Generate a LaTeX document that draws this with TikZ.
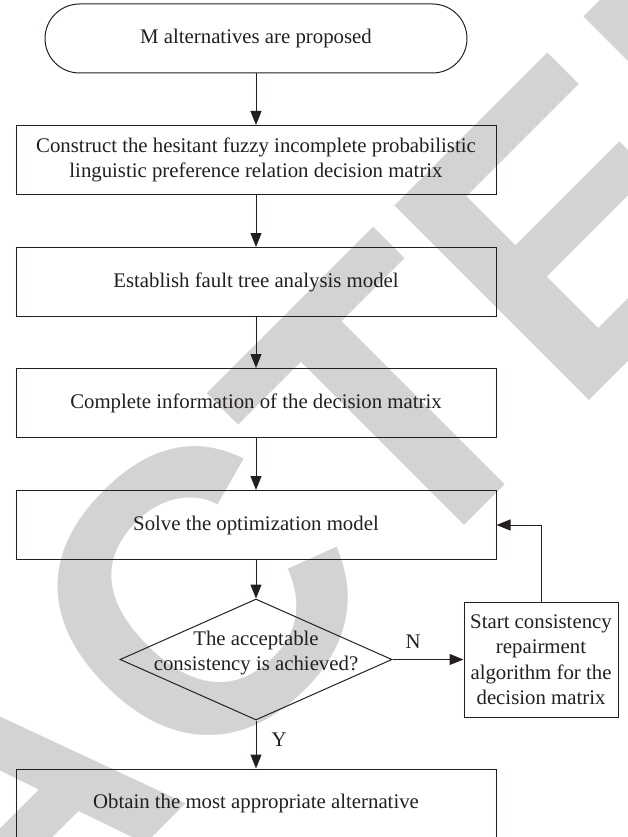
\documentclass[tikz,border=0pt]{standalone}
\usepackage{fontspec}
\setmainfont{Liberation Serif}
\newfontfamily\wmfont{Liberation Sans}
\usetikzlibrary{shapes.geometric,arrows.meta}
\definecolor{wm}{RGB}{211,211,211}
\definecolor{ln}{RGB}{35,31,32}
\begin{document}
\begin{tikzpicture}[x=1pt,y=-1pt,
  every node/.style={font=\fontsize{20.8}{25.5}\selectfont, text=ln},
  box/.style={draw=ln, line width=1pt, minimum width=480pt, minimum height=69pt, inner sep=0pt, align=center},
  term/.style={draw=ln, line width=1pt, rounded corners=34.5pt, minimum width=422pt, minimum height=69pt, inner sep=0pt},
  decision/.style={draw=ln, line width=1pt, shape=diamond, minimum width=272pt, minimum height=121pt, inner sep=0pt},
  sidebox/.style={draw=ln, line width=1pt, minimum width=154pt, minimum height=115pt, inner sep=0pt, align=center},
  arr/.style={draw=ln, line width=1pt, -{Triangle[length=14pt,width=11pt]}},
  lab/.style={inner sep=0pt},
  wmtext/.style={font=\wmfont\bfseries\fontsize{400}{400}\selectfont, text=wm, inner sep=0pt, rotate=45}
]
\path[use as bounding box] (0,0) rectangle (627,837);
\clip (0,0) rectangle (627,837);
% watermark
\coordinate (wmP) at (398,592);
\node[wmtext, anchor=base west] (wm1) at (wmP) {TED};
\node[wmtext, anchor=base east] (wm2) at (wmP) {RETRAC};
% flowchart
\node[term] (t) at (256,38.5) {M alternatives are proposed};
\node[box] (b2) at (256,160) {Construct the hesitant fuzzy incomplete probabilistic\\linguistic preference relation decision matrix};
\node[box] (b3) at (256,282) {Establish fault tree analysis model};
\node[box] (b4) at (256,403) {Complete information of the decision matrix};
\node[box] (b5) at (256,525) {Solve the optimization model};
\node[decision] (dec) at (256,659.5) {};
\node[lab, align=center] (dect) at (256,653) {The acceptable\\consistency is achieved?};
\node[sidebox] (rb) at (541,659.5) {Start consistency\\repairment\\algorithm for the\\decision matrix};
\node[box] (b6) at (256,803.5) {Obtain the most appropriate alternative};
\draw[arr] (t) -- (b2);
\draw[arr] (b2) -- (b3);
\draw[arr] (b3) -- (b4);
\draw[arr] (b4) -- (b5);
\draw[arr] (b5) -- (dec);
\draw[arr] (dec) -- (b6) node[lab, pos=0.39, right=15pt] {Y};
\draw[arr] (dec) -- (rb) node[lab, pos=0.29, above=11pt] {N};
\draw[arr] (rb.north) |- (b5.east);
\end{tikzpicture}
\end{document}
